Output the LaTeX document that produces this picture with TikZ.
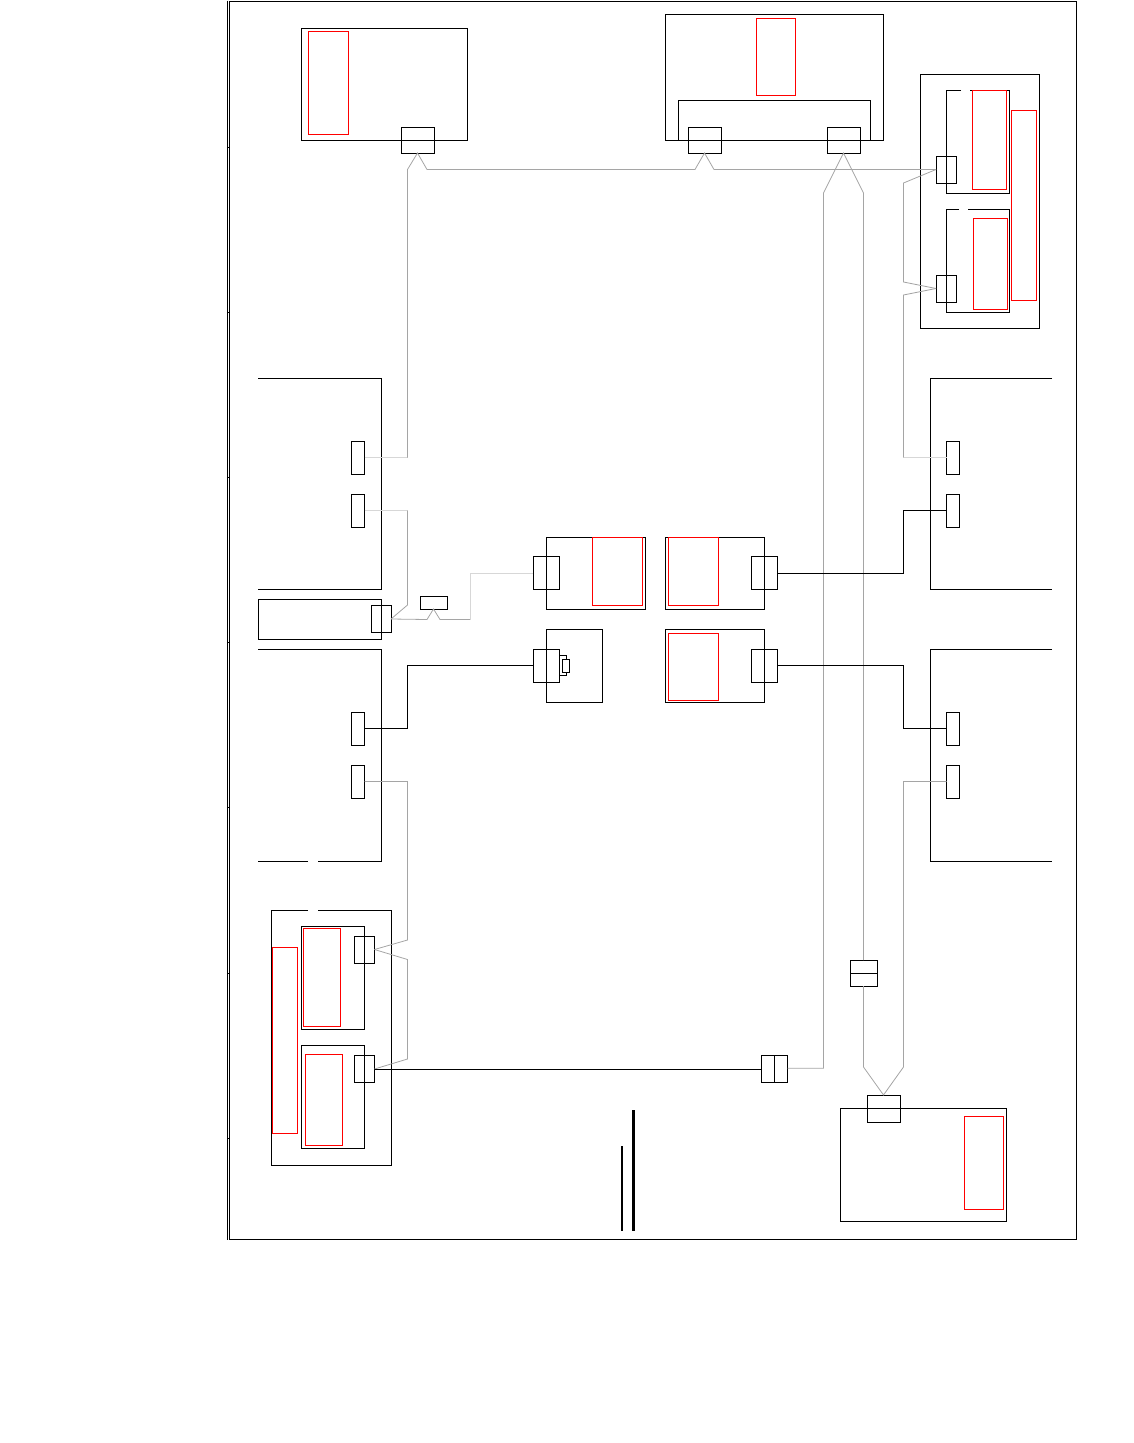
\documentclass[tikz,border=0pt]{standalone}
\usepackage{xcolor}
\usetikzlibrary{positioning}
\definecolor{netgrey}{RGB}{165,165,165}
\definecolor{netlight}{RGB}{215,215,215}
\begin{document}
\begin{tikzpicture}[
    x=1pt, y=-1pt,
    box/.style={draw, line width=1pt, inner sep=0pt, outer sep=0pt},
    redbox/.style={box, red},
    plug/.style={box, minimum width=33pt, minimum height=26pt},
    jack/.style={box, minimum width=13pt, minimum height=33pt},
    socket/.style={box, minimum width=20pt, minimum height=27pt},
    tap/.style={box, minimum width=26pt, minimum height=33pt},
    shelf/.style={line width=1pt},
    wire/.style={line width=1pt, black},
    greywire/.style={line width=0.8pt, netgrey},
    lightwire/.style={line width=1pt, netlight}
]
\useasboundingbox (0,0) rectangle (1134,1443);

% Frame
\draw[shelf] (227.5,0.5) -- (227.5,1239.5);
\draw[shelf] (229,1) -- (1076,1) -- (1076,1239) -- (229,1239) -- cycle;
\foreach \tick in {147,312,477,642,807,973,1138}
    \draw[line width=0.6pt] (227.5,\tick) -- (229,\tick);

% Top left unit
\node[box, minimum width=166pt, minimum height=112pt] (unita) at (384,84) {};
\node[redbox, minimum width=40pt, minimum height=103pt] (reda) at (328,82.5) {};
\node[plug] (plugA) at (417.5,140) {};

% Top middle unit
\node[box, minimum width=218pt, minimum height=126pt] (unitb) at (774,77) {};
\node[box, minimum width=192pt, minimum height=40pt] (trayb) at (774,120) {};
\node[redbox, minimum width=39pt, minimum height=77pt] (redb) at (776,56.5) {};
\node[plug] (plugB) at (704.5,140) {};
\node[plug] (plugC) at (843.5,140) {};

% Top right unit
\node[box, minimum width=119pt, minimum height=254pt] (unitc) at (979.5,201) {};
\draw[shelf] (961,90.5) -- (946.5,90.5) -- (946.5,193) -- (1009.5,193) -- (1009.5,90.5) -- (970,90.5);
\draw[shelf] (959,209.5) -- (946.5,209.5) -- (946.5,312) -- (1009.5,312) -- (1009.5,209.5) -- (968,209.5);
\node[redbox, minimum width=34pt, minimum height=99pt] (redc1) at (989.5,140) {};
\node[redbox, minimum width=34.5pt, minimum height=91pt] (redc2) at (990.5,263.5) {};
\node[redbox, minimum width=25.5pt, minimum height=190pt] (redc3) at (1023.8,205) {};
\node[socket] (sockC1) at (946,169.5) {};
\node[socket] (sockC2) at (946,288.5) {};

% Left servers
\draw[shelf] (258,378.5) -- (381.5,378.5) -- (381.5,589.5) -- (258,589.5);
\node[box, minimum width=123.5pt, minimum height=40pt] (unitd) at (320,619.5) {};
\draw[shelf] (258,649.5) -- (381.5,649.5) -- (381.5,861) -- (318,861);
\draw[shelf] (308,861) -- (258,861);
\node[socket] (sockD) at (381,619) {};
\node[jack] (jackL1) at (358,457.5) {};
\node[jack] (jackL2) at (358,510.5) {};
\node[jack] (jackL3) at (358,728.5) {};
\node[jack] (jackL4) at (358,781.5) {};

% Right servers
\draw[shelf] (1052,378.5) -- (930.5,378.5) -- (930.5,589.5) -- (1052,589.5);
\draw[shelf] (1052,649.5) -- (930.5,649.5) -- (930.5,861) -- (1052,861);
\node[jack] (jackR1) at (953,457.5) {};
\node[jack] (jackR2) at (953,510.5) {};
\node[jack] (jackR3) at (953,728.5) {};
\node[jack] (jackR4) at (953,781.5) {};

% Centre units
\node[box, minimum width=99pt, minimum height=72pt] (unite) at (595.5,573) {};
\node[redbox, minimum width=50pt, minimum height=68pt] (rede) at (617,571) {};
\node[tap] (tapE) at (546,573) {};
\node[box, minimum width=99pt, minimum height=72pt] (unitf) at (714.5,573) {};
\node[redbox, minimum width=50pt, minimum height=68pt] (redf) at (693,571) {};
\node[tap] (tapF) at (764,573) {};
\node[box, minimum width=56pt, minimum height=73pt] (unitg) at (574,665.5) {};
\node[tap] (tapG) at (546,665.5) {};
\node[box, minimum width=7pt, minimum height=20pt] (capG) at (563,665.5) {};
\node[box, fill=white, minimum width=7pt, minimum height=13pt] (pinG) at (566,665.5) {};
\node[box, minimum width=99pt, minimum height=73pt] (unith) at (714.5,665.5) {};
\node[redbox, minimum width=50pt, minimum height=67pt] (redh) at (693,666.5) {};
\node[tap] (tapH) at (764,665.5) {};

% Bottom left unit
\draw[shelf] (308,910.5) -- (271.5,910.5) -- (271.5,1165) -- (391.5,1165) -- (391.5,910.5) -- (318,910.5);
\node[box, minimum width=63pt, minimum height=103pt] (traym1) at (332.5,977.5) {};
\node[box, minimum width=63pt, minimum height=103pt] (traym2) at (332.5,1096.5) {};
\node[redbox, minimum width=37pt, minimum height=98pt] (redm1) at (321.5,977) {};
\node[redbox, minimum width=37pt, line width=1.5pt, minimum height=91pt] (redm2) at (324,1100) {};
\node[redbox, minimum width=25pt, minimum height=186pt] (redm3) at (284.5,1040) {};
\node[socket] (sockM1) at (364.5,949.5) {};
\node[socket] (sockM2) at (364.5,1069) {};

% Bottom right unit
\node[box, minimum width=166pt, minimum height=113pt] (unitn) at (923,1164.5) {};
\node[redbox, minimum width=39pt, minimum height=93pt] (redn) at (984,1162.5) {};
\node[plug, minimum height=27pt] (plugN) at (883.5,1108.5) {};

% Inline couplers
\node[box, minimum width=27pt, minimum height=13pt] (coupA) at (433.5,602.5) {};
\node[box, minimum width=27pt, minimum height=26pt] (coupB) at (863.5,973) {};
\draw[shelf] (coupB.west) -- (coupB.east);
\node[box, minimum width=26pt, minimum height=27pt] (coupC) at (774.5,1069) {};
\draw[shelf] (coupC.north) -- (coupC.south);

% Cable bends
\coordinate (bendL1) at (407.5,457.5);
\coordinate (bendL2) at (407.5,510.5);
\coordinate (bendR1) at (903.5,457.5);
\coordinate (bendE) at (470.5,619.5);
\coordinate (coupCout) at (787.5,1068.3);

% Grey cables
\draw[lightwire] (jackL1.east) -- (bendL1);
\draw[greywire] (bendL1) -- (407.5,169.5) -- (plugA.south) -- (427,169.5) -- (695,169.5) -- (plugB.south) -- (714,169.5) -- (sockC1.west);
\draw[greywire] (sockC1.west) -- (903.5,183) -- (903.5,282) -- (sockC2.west);
\draw[greywire] (sockC2.west) -- (903.5,295) -- (bendR1);
\draw[lightwire] (bendR1) -- (jackR1.west);
\draw[lightwire] (jackL2.east) -- (bendL2);
\draw[greywire] (bendL2) -- (407.5,605) -- (sockD.east);
\draw[greywire] (sockD.east) -- (427,619.5) -- (coupA.south) -- (440,619.5) -- (bendE);
\draw[lightwire] (bendE) -- (470.5,573) -- (tapE.west);
\draw[greywire] (jackL4.east) -- (407.5,781.5) -- (407.5,940) -- (sockM1.east);
\draw[greywire] (sockM1.east) -- (407.5,959.5) -- (407.5,1059) -- (sockM2.east);
\draw[greywire] (coupCout) -- (823.5,1068.3) -- (823.5,193) -- (plugC.south) -- (863.5,193) -- (coupB.north);
\draw[greywire] (coupB.south) -- (863.5,1067) -- (plugN.north) -- (903.5,1067) -- (903.5,781.5) -- (jackR4.west);

% Black cables
\draw[wire] (sockM2.east) -- (coupC.west);
\draw[wire] (tapF.east) -- (903.5,573) -- (903.5,510.5) -- (jackR2.west);
\draw[wire] (tapH.east) -- (903.5,665.5) -- (903.5,728.5) -- (jackR3.west);
\draw[wire] (jackL3.east) -- (407.5,728.5) -- (407.5,665.5) -- (tapG.west);

% Bars
\draw[line width=1.3pt] (622,1146) -- (622,1231);
\draw[line width=2.4pt] (633.5,1110) -- (633.5,1231);
\end{tikzpicture}
\end{document}
